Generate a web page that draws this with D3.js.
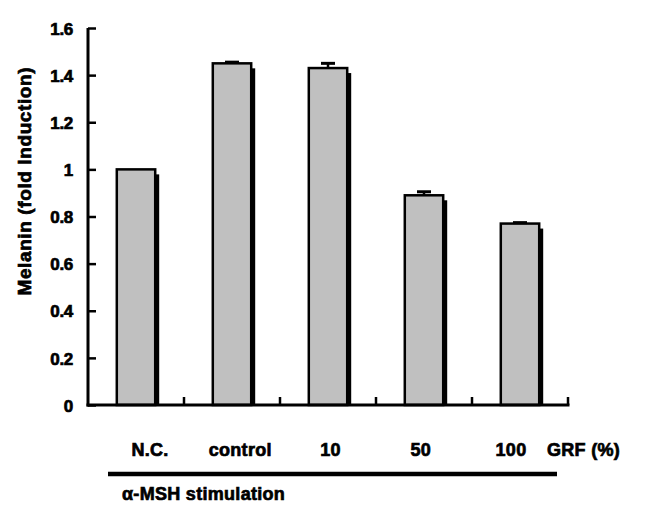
<!DOCTYPE html>
<html>
<head>
<meta charset="utf-8">
<script src="https://cdn.jsdelivr.net/npm/d3@7"></script>
<style>
  body { margin: 0; background: #fff; }
  svg text {
    font-family: "Liberation Sans", Arial, sans-serif;
    font-weight: bold;
    fill: #000;
    stroke: #000;
    stroke-width: 0.7px;
  }
</style>
</head>
<body>
<div id="chart"></div>
<script>
// Data
var categories = ["N.C.", "control", "10", "50", "100"];
var values = [1.0, 1.45, 1.43, 0.89, 0.77];
var errors = [0, 0.005, 0.02, 0.015, 0.004];
var yTicks = [0, 0.2, 0.4, 0.6, 0.8, 1, 1.2, 1.4, 1.6];

var width = 646, height = 514;
var margin = { top: 28, left: 88, right: 78, bottom: 109 };
var chartWidth = width - margin.left - margin.right;
var chartHeight = height - margin.top - margin.bottom;

var svg = d3.select("#chart")
  .append("svg")
  .attr("width", width)
  .attr("height", height);

var chart = svg.append("g")
  .attr("transform", "translate(" + margin.left + "," + margin.top + ")");

var xScale = d3.scaleBand()
  .domain(categories)
  .range([0, chartWidth])
  .paddingInner(0.6)
  .paddingOuter(0.3);

var yScale = d3.scaleLinear()
  .domain([0, 1.6])
  .range([chartHeight, 0]);

var bars = categories.map((c, i) => ({ cat: c, value: values[i], err: errors[i] }));
var center = d => xScale(d.cat) + xScale.bandwidth() / 2;

// Shadows
chart.append("g")
  .selectAll("rect")
  .data(bars)
  .enter()
  .append("rect")
  .attr("x", d => xScale(d.cat) + 4)
  .attr("y", d => yScale(d.value) + 5)
  .attr("width", xScale.bandwidth())
  .attr("height", d => chartHeight - yScale(d.value) - 5)
  .attr("fill", "#000");

// Bars
chart.append("g")
  .selectAll("rect")
  .data(bars)
  .enter()
  .append("rect")
  .attr("x", d => xScale(d.cat))
  .attr("y", d => yScale(d.value))
  .attr("width", xScale.bandwidth())
  .attr("height", d => chartHeight - yScale(d.value))
  .attr("fill", "#c0c0c0")
  .attr("stroke", "#000")
  .attr("stroke-width", 2.5);

// Error bars (upper half only)
var err = chart.append("g").selectAll("g")
  .data(bars.filter(d => d.err > 0))
  .enter()
  .append("g");

err.append("line")
  .attr("x1", center)
  .attr("x2", center)
  .attr("y1", d => yScale(d.value))
  .attr("y2", d => yScale(d.value + d.err))
  .attr("stroke", "#000")
  .attr("stroke-width", 2.5);

err.append("line")
  .attr("x1", d => center(d) - 7)
  .attr("x2", d => center(d) + 7)
  .attr("y1", d => yScale(d.value + d.err))
  .attr("y2", d => yScale(d.value + d.err))
  .attr("stroke", "#000")
  .attr("stroke-width", 3);

// Y axis
var yAxis = d3.axisRight(yScale)
  .tickValues(yTicks)
  .tickSize(8)
  .tickFormat(d3.format("~g"));

var yG = chart.append("g").attr("class", "y axis").call(yAxis);
yG.select(".domain").remove();
yG.selectAll(".tick line").attr("stroke", "#000").attr("stroke-width", 2.5);
yG.selectAll(".tick text")
  .attr("x", -15)
  .attr("text-anchor", "end")
  .attr("dy", "0.36em")
  .style("font-size", "17px")
  .style("letter-spacing", "-0.3px");

// X axis with inward ticks at category boundaries
var boundaries = d3.range(1, categories.length + 1).map(i => i * xScale.step());
chart.append("g")
  .selectAll("line")
  .data(boundaries)
  .enter()
  .append("line")
  .attr("x1", d => d)
  .attr("x2", d => d)
  .attr("y1", chartHeight)
  .attr("y2", chartHeight - 8)
  .attr("stroke", "#000")
  .attr("stroke-width", 2.5);

chart.append("line")
  .attr("x1", 0).attr("x2", 0)
  .attr("y1", 0).attr("y2", chartHeight + 1.5)
  .attr("stroke", "#000").attr("stroke-width", 3);

chart.append("line")
  .attr("x1", -1.5).attr("x2", chartWidth + 1.5)
  .attr("y1", chartHeight).attr("y2", chartHeight)
  .attr("stroke", "#000").attr("stroke-width", 3);

// Category labels
var labelScale = d3.scalePoint()
  .domain(categories)
  .range([150 - margin.left, 511 - margin.left]);

chart.append("g")
  .selectAll("text")
  .data(categories)
  .enter()
  .append("text")
  .attr("x", d => labelScale(d))
  .attr("y", chartHeight + 51)
  .attr("text-anchor", "middle")
  .style("font-size", "18px")
  .style("letter-spacing", "0.3px")
  .text(d => d);

chart.append("text")
  .attr("x", 547 - margin.left)
  .attr("y", chartHeight + 51)
  .style("font-size", "18px")
  .style("letter-spacing", "0.3px")
  .text("GRF (%)");

// Stimulation bracket
chart.append("line")
  .attr("x1", 108 - margin.left)
  .attr("x2", 557 - margin.left)
  .attr("y1", chartHeight + 69)
  .attr("y2", chartHeight + 69)
  .attr("stroke", "#000")
  .attr("stroke-width", 4.5);

chart.append("text")
  .attr("x", 122 - margin.left)
  .attr("y", chartHeight + 95)
  .style("font-size", "18px")
  .style("letter-spacing", "0.3px")
  .text("α-MSH stimulation");

// Y axis title
svg.append("text")
  .attr("transform", "translate(31," + (margin.top + yScale(0.95)) + ") rotate(-90)")
  .attr("text-anchor", "middle")
  .style("font-size", "19px")
  .style("letter-spacing", "0.6px")
  .text("Melanin (fold Induction)");
</script>
</body>
</html>
